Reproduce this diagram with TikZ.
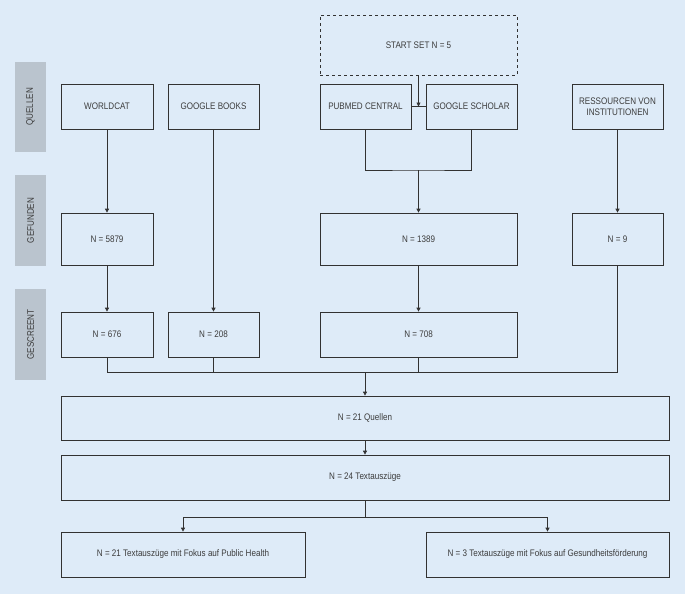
\documentclass[tikz,border=0pt]{standalone}
\usepackage{fontspec}
\setmainfont{Liberation Sans}[FakeStretch=0.85]
\usetikzlibrary{arrows.meta}
\definecolor{bg}{RGB}{222,235,248}
\definecolor{band}{RGB}{186,196,206}
\definecolor{txt}{RGB}{60,60,60}
\definecolor{ln}{RGB}{50,50,50}
\begin{document}
\begin{tikzpicture}[x=1pt,y=-1pt,
  box/.style={draw=ln,line width=0.7pt,fill=bg,text=txt,font=\fontsize{9.5}{10.5}\selectfont,align=center,inner sep=1pt},
  lbl/.style={fill=band,text=txt,font=\fontsize{9.5}{10.5}\selectfont,rotate=90},
  ar/.style={draw=ln,line width=0.7pt,-{Triangle[width=4pt,length=4pt]}},
  li/.style={draw=ln,line width=0.7pt}]
\fill[bg] (0,0) rectangle (685,594);
\useasboundingbox (0,0) rectangle (685,594);
% bands
\node[lbl,minimum width=90pt,minimum height=31pt] (q) at (30.5,107) {QUELLEN};
\node[lbl,minimum width=91pt,minimum height=31pt] (g) at (30.5,220.5) {GEFUNDEN};
\node[lbl,minimum width=91pt,minimum height=31pt] (s) at (30.5,334.5) {GESCREENT};
% boxes
\node[box,dashed,minimum width=197pt,minimum height=60pt] (start) at (418.5,45) {START SET N = 5};
\node[box,minimum width=92pt,minimum height=45pt] (wc) at (107,106.5) {WORLDCAT};
\node[box,minimum width=91pt,minimum height=45pt] (gb) at (213.5,106.5) {GOOGLE BOOKS};
\node[box,minimum width=91pt,minimum height=45pt] (pm) at (365.5,106.5) {PUBMED CENTRAL};
\node[box,minimum width=91pt,minimum height=45pt] (gs) at (471.5,106.5) {GOOGLE SCHOLAR};
\node[box,minimum width=91pt,minimum height=45pt] (ri) at (617.5,106.5) {RESSOURCEN VON\\INSTITUTIONEN};
\node[box,minimum width=92pt,minimum height=52pt] (f1) at (107,239) {N = 5879};
\node[box,minimum width=197pt,minimum height=52pt] (f2) at (418.5,239) {N = 1389};
\node[box,minimum width=91pt,minimum height=52pt] (f3) at (617.5,239) {N = 9};
\node[box,minimum width=92pt,minimum height=45pt] (s1) at (107,334.5) {N = 676};
\node[box,minimum width=91pt,minimum height=45pt] (s2) at (213.5,334.5) {N = 208};
\node[box,minimum width=197pt,minimum height=45pt] (s3) at (418.5,334.5) {N = 708};
\node[box,minimum width=608pt,minimum height=44pt] (q21) at (365,418) {N = 21 Quellen};
\node[box,minimum width=608pt,minimum height=45pt] (t24) at (365,477.5) {N = 24 Textauszüge};
\node[box,minimum width=244pt,minimum height=45pt] (ph) at (183,554.5) {N = 21 Textauszüge mit Fokus auf Public Health};
\node[box,minimum width=243pt,minimum height=45pt] (gf) at (547.5,554.5) {N = 3 Textauszüge mit Fokus auf Gesundheitsförderung};
% coordinates
\coordinate (j1) at (418.5,106.5);
\coordinate (j2) at (418.5,170);
\coordinate (m) at (365,372);
\coordinate (b) at (365,517);
% connectors
\draw[ar] (start.south) -- (j1);
\draw[li] (pm.east) -- (gs.west);
\draw[li] (pm.south) |- (j2) -| (gs.south);
\draw[ar] (j2) -- (f2.north);
\draw[ar] (wc) -- (f1);
\draw[ar] (f1) -- (s1);
\draw[ar] (gb) -- (s2);
\draw[ar] (ri) -- (f3);
\draw[ar] (f2) -- (s3);
\draw[li] (s1.south) |- (m);
\draw[li] (s2.south) |- (m);
\draw[li] (s3.south) |- (m);
\draw[li] (f3.south) |- (m);
\draw[ar] (m) -- (q21.north);
\draw[ar] (q21) -- (t24);
\draw[li] (t24.south) -- (b);
\draw[ar] (b) -| (ph.north);
\draw[ar] (b) -| (gf.north);
\end{tikzpicture}
\end{document}
